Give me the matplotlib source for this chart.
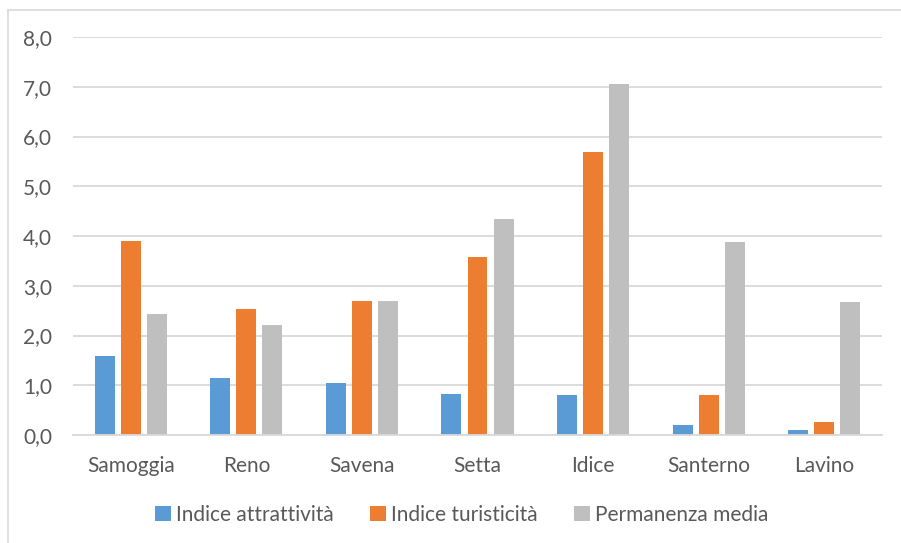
import matplotlib
matplotlib.use("Agg")
import matplotlib.pyplot as plt
from matplotlib.patches import Rectangle
import numpy as np

categories = ["Samoggia", "Reno", "Savena", "Setta", "Idice", "Santerno", "Lavino"]
attrattivita = [1.59, 1.15, 1.05, 0.82, 0.80, 0.20, 0.10]
turisticita = [3.90, 2.53, 2.69, 3.58, 5.69, 0.80, 0.26]
permanenza = [2.43, 2.21, 2.70, 4.34, 7.05, 3.88, 2.67]
series_names = ["Indice attrattività", "Indice turisticità", "Permanenza media"]
yticks = [0, 1, 2, 3, 4, 5, 6, 7, 8]
ytick_labels = ["0,0", "1,0", "2,0", "3,0", "4,0", "5,0", "6,0", "7,0", "8,0"]

colors = ["#5b9bd5", "#ed7d31", "#bfbfbf"]
text_color = "#595959"
grid_color = "#d9d9d9"

plt.rcParams['font.family'] = ['Lato', 'DejaVu Sans']

W, H = 901, 543
fig = plt.figure(figsize=(W / 100, H / 100), dpi=100)
fig.patches.append(Rectangle((7.5 / W, -0.1), 1.2, 1 - 9.5 / H + 0.1,
                             transform=fig.transFigure, fill=False,
                             edgecolor=grid_color, linewidth=1.2))

ax = fig.add_axes([73 / W, 1 - 435 / H, (882 - 73) / W, (435 - 37) / H])
x = np.arange(len(categories))
bw = 0.173
off = 0.225
for i, (vals, name) in enumerate(zip([attrattivita, turisticita, permanenza], series_names)):
    ax.bar(x + (i - 1) * off, vals, width=bw, color=colors[i], label=name, zorder=3)

ax.set_xlim(-0.5, len(categories) - 0.5)
ax.set_ylim(0, 8)
ax.set_yticks(yticks)
ax.set_yticklabels(ytick_labels)
ax.set_xticks(x)
ax.set_xticklabels(categories)
ax.tick_params(axis='both', length=0, colors=text_color, labelsize=15)
ax.tick_params(axis='x', pad=15)
ax.tick_params(axis='y', pad=15)
for lbl in ax.get_yticklabels() + ax.get_xticklabels():
    lbl.set_color(text_color)
ax.yaxis.grid(True, color=grid_color, linewidth=1.3, zorder=0)
for s in ["top", "right", "left"]:
    ax.spines[s].set_visible(False)
ax.spines["bottom"].set_color(grid_color)
ax.spines["bottom"].set_linewidth(1.3)
ax.spines["bottom"].set_zorder(4)

leg = fig.legend(loc="center", bbox_to_anchor=(462 / W, 1 - 515 / H), ncol=3,
                 frameon=False, fontsize=15, handlelength=0.75, handleheight=0.75,
                 handletextpad=0.25, columnspacing=1.75, labelcolor=text_color)

fig.savefig("out.png", dpi=100)
